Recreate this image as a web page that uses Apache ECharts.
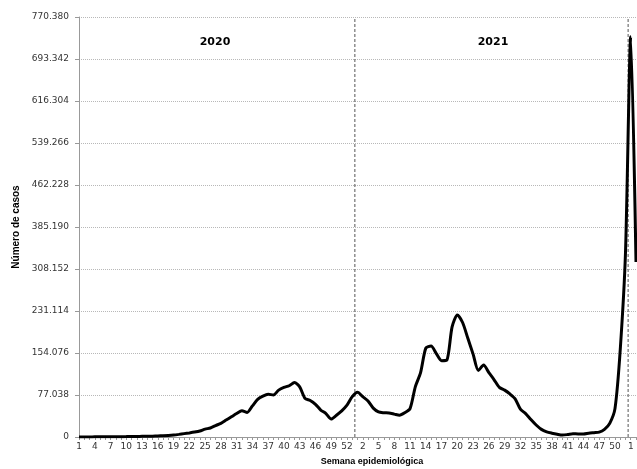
<!DOCTYPE html>
<html>
<head>
<meta charset="utf-8">
<script src="https://cdn.jsdelivr.net/npm/echarts@6/dist/echarts.min.js"></script>
<style>
html,body{margin:0;padding:0;background:#fff;}
#chart{width:637px;height:469px;}
</style>
</head>
<body>
<div id="chart"></div>
<script>
// Weekly cases, 2020 (53 weeks)
var cases2020 = [100,150,200,250,300,350,400,500,600,700,
  850,1000,1200,1400,1600,1900,2300,2800,3600,4800,
  6200,7500,9000,11000,14500,16500,21000,25000,31000,37000,
  43000,48000,45000,57000,69000,75000,78500,77000,86000,91000,
  94000,100000,92000,71000,67000,60000,49500,43000,33000,40000,
  48000,58500,74000];
// Weekly cases, 2021 (52 weeks)
var cases2021 = [82000,74000,66000,53000,46000,44500,44000,42000,40000,44500,
  52000,92000,118000,163000,167000,153000,140000,141000,202000,224000,
  210000,181000,152000,122000,132000,118000,105000,91000,86000,79000,
  70000,51000,43000,32000,22000,14000,9500,7000,5000,3500,
  4500,6000,5500,5500,7000,8000,9000,14000,25000,52000,
  160000,338000];
// Weekly cases, 2022 (first weeks)
var cases2022 = [734000,321000];

var weeks2020 = Array.from({length:53},function(_,i){return String(i+1);});
var weeks2021 = Array.from({length:52},function(_,i){return String(i+1);});
var weeks2022 = ['1','2'];

var yTickMax = 770380;
var yTickStep = 77038;
var yearNames = ['2020','2021'];

var categories = weeks2020.concat(weeks2021, weeks2022);
var values = cases2020.concat(cases2021, cases2022);
var div1 = weeks2020.length - 0.5;
var div2 = weeks2020.length + weeks2021.length - 0.5;

function fmt(v){
  return String(Math.round(v)).replace(/\B(?=(\d{3})+(?!\d))/g,'.');
}

var chart = echarts.init(document.getElementById('chart'));
var dividerStyle = {color:'#555', width:1, type:[3,2]};
chart.setOption({
  animation:false,
  backgroundColor:'#fff',
  grid:{left:79, right:1, top:17, bottom:32, containLabel:false},
  xAxis:[{
    type:'category',
    data:categories,
    boundaryGap:false,
    axisLine:{lineStyle:{color:'#999', width:1}},
    axisTick:{interval:0, length:3, lineStyle:{color:'#999'}},
    axisLabel:{interval:2, margin:5, fontFamily:'DejaVu Sans', fontSize:9, color:'#333'},
    splitLine:{show:false}
  },{
    type:'value', min:0, max:categories.length-1, show:false
  }],
  yAxis:{
    type:'value', min:0, max:yTickMax, interval:yTickStep,
    name:'Número de casos', nameLocation:'middle', nameRotate:90, nameGap:56,
    nameTextStyle:{fontFamily:'Liberation Sans', fontWeight:'bold', fontSize:10, color:'#000'},
    axisLine:{show:true, lineStyle:{color:'#999'}},
    axisTick:{show:true, length:4, lineStyle:{color:'#999'}},
    axisLabel:{formatter:fmt, margin:10, fontFamily:'DejaVu Sans', fontSize:9, color:'#333'},
    splitLine:{show:true, lineStyle:{color:'#b8b8b8', type:[1,1], width:1}}
  },
  graphic:[
    {type:'text', x:372, y:462, style:{text:'Semana epidemiológica', fontFamily:'Liberation Sans', fontWeight:'bold', fontSize:9, fill:'#000', align:'center', verticalAlign:'middle'}},
    {type:'text', x:215, y:42, style:{text:yearNames[0], fontFamily:'DejaVu Sans', fontWeight:'bold', fontSize:11, fill:'#000', align:'center', verticalAlign:'middle'}},
    {type:'text', x:493, y:42, style:{text:yearNames[1], fontFamily:'DejaVu Sans', fontWeight:'bold', fontSize:11, fill:'#000', align:'center', verticalAlign:'middle'}}
  ],
  series:[
    {type:'line', xAxisIndex:1, data:[[div1,0],[div1,yTickMax]], symbol:'none', lineStyle:dividerStyle, silent:true},
    {type:'line', xAxisIndex:1, data:[[div2,0],[div2,yTickMax]], symbol:'none', lineStyle:dividerStyle, silent:true},
    {type:'line', data:values, symbol:'none', smooth:0.25, lineStyle:{color:'#000', width:3}, z:5}
  ]
});
</script>
</body>
</html>
